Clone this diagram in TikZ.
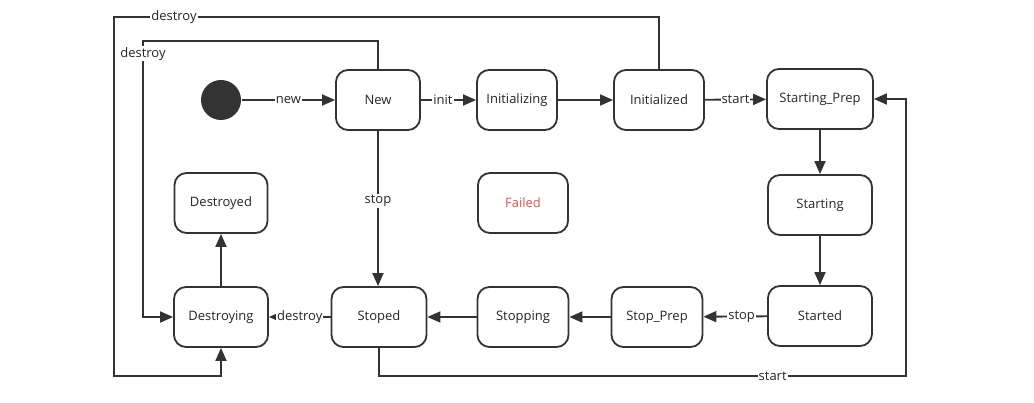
\documentclass[tikz,border=0pt]{standalone}
\usepackage{fontspec}
\setmainfont{Open Sans}
\usepackage{xcolor}
\usepackage{tikz}
\usetikzlibrary{arrows.meta}

\definecolor{linegray}{HTML}{333333}
\definecolor{failred}{HTML}{E8514F}

\begin{document}
\begin{tikzpicture}[x=1pt, y=-1pt, line width=1.8pt, draw=linegray, text=black!85,
	every node/.style={font=\fontsize{13}{15}\selectfont},
	state/.style={draw=linegray, rounded corners=12pt, minimum height=60pt, inner sep=2pt, fill=white},
	start/.style={circle, fill=linegray, draw=none, minimum size=40pt, inner sep=0pt},
	arr/.style={draw=linegray, -{Triangle[length=13pt,width=11pt]}, rounded corners=0pt},
	lbl/.style={fill=white, inner sep=1pt},]

\useasboundingbox (0,0) rectangle (1034,403);

% top row
\node [start] (init) at (221,100) {};
\node [state, minimum width=84pt] (new) at (378,100) {New};
\node [state, minimum width=80pt] (initing) at (517,100) {Initializing};
\node [state, minimum width=90pt] (inited) at (659,100) {Initialized};
\node [state, minimum width=106pt] (prep) at (820,99) {Starting\_Prep};

% right column
\node [state, minimum width=104pt] (starting) at (820,205) {Starting};
\node [state, minimum width=104pt] (started) at (820,316) {Started};

% bottom row
\node [state, minimum width=91pt] (stopprep) at (657,317) {Stop\_Prep};
\node [state, minimum width=91pt] (stopping) at (523,317) {Stopping};
\node [state, minimum width=95pt] (stoped) at (379,317) {Stoped};
\node [state, minimum width=94pt] (dying) at (221,317) {Destroying};

% middle
\node [state, minimum width=93pt] (dead) at (221,203) {Destroyed};
\node [state, minimum width=90pt, text=failred] (failed) at (523,203) {Failed};

\draw [arr] (init) -- node[lbl] {new} (new);
\draw [arr] (new) -- node[lbl, pos=0.4] {init} (initing);
\draw [arr] (initing) -- (inited);
\draw [arr] (inited) -- node[lbl] {start} (prep);
\draw [arr] (prep) -- (starting);
\draw [arr] (starting) -- (started);
\draw [arr] (started) -- node[lbl, pos=0.4] {stop} (stopprep);
\draw [arr] (stopprep) -- (stopping);
\draw [arr] (stopping) -- (stoped);
\draw [arr] (stoped) -- node[lbl] {destroy} (dying);
\draw [arr] (dying) -- (dead);
\draw [arr] (new.south) -- node[lbl, pos=0.45] {stop} (new.south |- stoped.north);

% long way round
\draw [arr] (inited.north) -- (659,17) -- node[lbl, pos=0.89] {destroy} (114,17) -- (114,376) -- (221,376) -- (dying.south);
\draw [arr] (new.north) -- (378,41) -- (143,41) -- node[lbl, pos=0.047] {destroy} (143,317) -- (dying.west);
\draw [arr] (stoped.south) -- (379,376) -- node[lbl, pos=0.747] {start} (906,376) -- (906,99) -- (prep.east);

\end{tikzpicture}
\end{document}
